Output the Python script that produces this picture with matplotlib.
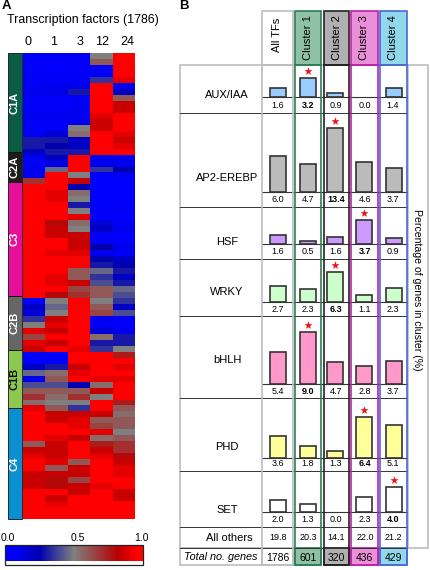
import numpy as np
import matplotlib
matplotlib.use('Agg')
import matplotlib.pyplot as plt
from matplotlib.colors import LinearSegmentedColormap
from matplotlib.patches import Rectangle

plt.rcParams['font.family'] = ['Liberation Sans', 'DejaVu Sans']

# heatmap, rows top to bottom, columns are the time points
time_points = ['0', '1', '3', '12', '24']
heat = np.array([
    [0, 0, .03, .5, 1], [.02, .02, .03, .6, 1], [0, 0, .02, .05, 1], [.05, .05, .05, .05, 1],
    [.03, .05, .05, .35, .9], [.05, .1, .1, 1, .1], [.1, .12, .3, 1, .2], [.02, .02, .05, 1, .6],
    [.02, .02, .05, 1, .85], [.05, .05, .08, 1, .85], [.1, .1, .1, .9, 1], [.02, .05, .1, .85, 1],
    [.05, .05, .5, .85, 1], [.05, .15, .55, 1, .9], [.3, .3, .2, 1, .85], [.3, .25, .2, 1, .9],
    [.2, .3, .3, .95, .95], [.05, .2, 1, .1, .1], [.05, .12, 1, .1, .1], [.1, .45, 1, .35, .25],
    [.1, 1, .5, .05, .1], [.7, 1, .85, 0, 0], [1, .95, .25, 0, 0], [1, .9, .55, 0, 0],
    [1, .9, .5, 0, 0], [1, .95, .3, .02, .05], [1, .95, .5, .03, .05], [.95, 1, .9, .02, .02],
    [1, .8, .55, .15, .05], [1, .85, .5, .2, .1], [1, .85, .85, .05, .02], [1, 1, .85, .05, .02],
    [1, .95, .85, .25, .1], [1, .9, .9, .1, .05], [1, 1, 1, .25, .2], [1, 1, .95, .3, .25],
    [1, .95, .6, .45, .3], [1, .9, .6, .35, .2], [1, .9, .85, .4, .3], [1, .95, .65, .6, .45],
    [1, .8, .7, .6, .4], [0, .5, 1, .5, .35], [.2, .45, 1, .6, .2], [.15, .5, 1, .65, .4],
    [.35, .85, 1, .1, .05], [.5, .9, 1, .05, .02], [.9, .85, 1, .15, .1], [.65, .95, 1, .55, .3],
    [.9, .85, .95, .3, .3], [.85, 1, .9, .35, .5], [0, 0, 1, 1, .75], [0, 0, .95, 1, 1],
    [.2, .3, .85, 1, .9], [.45, .55, .9, 1, .95], [.1, .6, 1, .9, .9], [.4, .4, .25, .55, 1],
    [.6, .6, .6, .85, 1], [.7, .55, .7, .5, 1], [.55, .5, .5, 1, .75], [.9, .6, .35, 1, .6],
    [1, .85, .85, .85, .55], [1, .85, .9, .6, .6], [1, .95, .9, .65, .6], [1, .95, 1, .9, .5],
    [.95, .9, .85, .55, .6], [.6, .85, 1, .75, .7], [.85, .85, 1, .85, .7], [.9, .85, 1, .9, .8],
    [1, .9, .6, .95, .85], [.95, .6, .85, 1, .9], [.85, .85, .85, 1, .9], [.85, .8, .65, 1, 1],
    [.85, .8, .85, .9, 1], [1, .95, .85, .95, .85], [1, .85, 1, .95, .85], [.95, .9, 1, .95, .95],
    [1, 1, .95, 1, 1], [1, 1, 1, 1, 1],
])

side_names = ['C1A', 'C2A', 'C3', 'C2B', 'C1B', 'C4']
side_spans = [(53, 152), (152, 182), (182, 296), (296, 350), (350, 408), (408, 519)]
side_colors = ['#0a5c44', '#1c1c1c', '#e60f9a', '#666666', '#8cc850', '#0c8fd0']
side_text = ['white', 'white', 'white', 'white', '#111111', 'white']

columns = ['All TFs', 'Cluster 1', 'Cluster 2', 'Cluster 3', 'Cluster 4']
families = ['AUX/IAA', 'AP2-EREBP', 'HSF', 'WRKY', 'bHLH', 'PHD', 'SET']
family_colors = ['#99ccff', '#bbbbbb', '#cc99ff', '#ccffcc', '#ff99cc', '#ffff99', 'white']

# printed numbers under the bars
printed = [
    ['1.6', '3.2', '0.9', '0.0', '1.4'],
    ['6.0', '4.7', '13.4', '4.6', '3.7'],
    ['1.6', '0.5', '1.6', '3.7', '0.9'],
    ['2.7', '2.3', '6.3', '1.1', '2.3'],
    ['5.4', '9.0', '4.7', '2.8', '3.7'],
    ['3.6', '1.8', '1.3', '6.4', '5.1'],
    ['2.0', '1.3', '0.0', '2.3', '4.0'],
]
# bar heights as drawn in the picture, they do not follow the printed numbers exactly
bar_heights = [
    [1.5, 3.2, 0.8, 0, 1.5],
    [6.0, 4.7, 10.7, 5.0, 4.0],
    [1.6, 0.55, 1.3, 4.0, 1.0],
    [2.7, 2.3, 5.0, 1.3, 2.45],
    [5.3, 8.7, 3.7, 3.0, 3.9],
    [3.6, 1.9, 1.05, 6.8, 5.4],
    [2.0, 1.45, 0, 2.55, 4.2],
]
starred = [1, 2, 3, 2, 1, 3, 4]
all_others = ['19.8', '20.3', '14.1', '22.0', '21.2']
totals = ['1786', '601', '320', '436', '429']

W, H = 430, 570
fig = plt.figure(figsize=(W / 100, H / 100), dpi=100)
ax = fig.add_axes([0, 0, 1, 1])
ax.set_xlim(0, W)
ax.set_ylim(H, 0)
ax.axis('off')

cmap = LinearSegmentedColormap.from_list('bgr', [(0, '#0000ff'), (.1, '#0000ee'), (.25, '#0000b0'), (.5, '#808080'),
                                                 (.82, '#b80000'), (.95, '#ff0000'), (1, '#ff0000')])

# panel A
ax.text(2, 6, 'A', fontsize=9.5, fontweight='bold', va='center')
ax.text(7, 20, 'Transcription factors (1786)', fontsize=8.9, va='center')

hm_x0, hm_x1, hm_y0, hm_y1 = 23, 134.5, 53, 519
ax.imshow(heat, cmap=cmap, vmin=0, vmax=1, aspect='auto', interpolation='nearest',
          extent=(hm_x0, hm_x1, hm_y1, hm_y0), zorder=1)
for x, t in zip([28, 54, 80, 102, 127], time_points):
    ax.text(x, 42, t, fontsize=9, ha='center', va='center')

for name, (y0, y1), c, tc in zip(side_names, side_spans, side_colors, side_text):
    ax.add_patch(Rectangle((8, y0), 14, y1 - y0, fc=c, ec='#111111', lw=0.6, zorder=2))
    ax.text(15, (y0 + y1) / 2, name, color=tc, fontsize=8, fontweight='bold', rotation=90,
            ha='center', va='center', zorder=3)

# colour key
ax.imshow(np.linspace(0, 1, 256).reshape(1, -1), cmap=cmap, vmin=0, vmax=1, aspect='auto',
          extent=(5, 143, 561, 546), zorder=1)
ax.add_patch(Rectangle((5, 545), 138, 20, fc='none', ec='#222222', lw=0.9, zorder=2))
for x, s in zip([8, 78, 141], ['0.0', '0.5', '1.0']):
    ax.text(x, 538, s, fontsize=7.5, ha='center', va='center')

# panel B
ax.text(179, 6, 'B', fontsize=9.5, fontweight='bold', va='center')

tab_top, tab_bot = 65, 565
row_lines = [113, 207, 258.7, 316, 398.3, 471.3, 527.3, 548]
baselines = [97.3, 192.3, 244.3, 302.3, 384, 457.7, 512.3]
label_y = [95, 178, 242, 292, 360, 447, 510]
number_y = [105, 200, 252, 309, 391, 464, 520]
bar_x = [277.5, 308, 335, 364, 394]
text_x = [278, 308, 336, 365, 393]
px_per_unit = 6

# grey frame of the table and the side label box
ax.add_patch(Rectangle((179.7, tab_top), 228, 483, fc='white', ec='#bdbdbd', lw=1.2, zorder=1))
ax.add_patch(Rectangle((179.7, 548), 82, 17, fc='white', ec='#bdbdbd', lw=1.2, zorder=1))
ax.add_patch(Rectangle((408, tab_top), 20, 483, fc='white', ec='#bdbdbd', lw=1.2, zorder=1))

col_spans = [(261.7, 293), (295, 321), (323.7, 349.3), (351, 377.7), (380, 407)]
col_edges = ['#bdbdbd', '#2e7d55', '#222222', '#c020a8', '#4a68d8']
col_fills = ['white', '#8fc1a5', '#b0b0b0', '#ea90d8', '#90d8ea']
for (x0, x1), ec, fc, name, tot in zip(col_spans, col_edges, col_fills, columns, totals):
    ax.add_patch(Rectangle((x0, 11), x1 - x0, tab_top - 11, fc=fc, ec=ec, lw=1.2, zorder=2))
    ax.add_patch(Rectangle((x0, 548), x1 - x0, tab_bot - 548, fc=fc, ec=ec, lw=1.2, zorder=2))
    ax.add_patch(Rectangle((x0, tab_top), x1 - x0, tab_bot - tab_top, fc='none', ec=ec, lw=1.2, zorder=4))
    xc = (x0 + x1) / 2
    ax.text(xc, 60 if name != 'All TFs' else 52, name, fontsize=8, rotation=90, ha='center', va='bottom', zorder=5)
    ax.text(xc, 558, tot, fontsize=7.5, ha='center', va='center', zorder=5)

for y in row_lines:
    ax.plot([179.7, 407], [y, y], color='#333333', lw=0.7, zorder=3)

for i, fam in enumerate(families):
    base = baselines[i]
    heights = -np.array(bar_heights[i]) * px_per_unit
    ax.plot([261.7, 407], [base, base], color='#333333', lw=0.8, zorder=3)
    for x, h in zip(bar_x, heights):
        if h != 0:
            ax.bar(x, h, width=16, bottom=base, color=family_colors[i], edgecolor='#333333', lw=1.2, zorder=3)
    ax.text(227, label_y[i], fam, fontsize=8, ha='center', va='center')
    for j, (x, s) in enumerate(zip(text_x, printed[i])):
        ax.text(x, number_y[i], s, fontsize=6.5, ha='center', va='center', zorder=5,
                fontweight='bold' if j == starred[i] else 'normal')
    k = starred[i]
    ax.scatter(bar_x[k], base + heights[k] - 7, marker='*', s=38, color='#ee1111', lw=0, zorder=5)

ax.text(229, 538, 'All others', fontsize=8, ha='center', va='center')
ax.text(221, 557, 'Total no. genes', fontsize=7.8, style='italic', ha='center', va='center')
for x, s in zip(text_x, all_others):
    ax.text(x, 538, s, fontsize=6.5, ha='center', va='center', zorder=5)

ax.text(417, 290, 'Percentage of genes in cluster (%)', fontsize=7.6, rotation=270, ha='center', va='center')

fig.savefig('out.png', dpi=100)
